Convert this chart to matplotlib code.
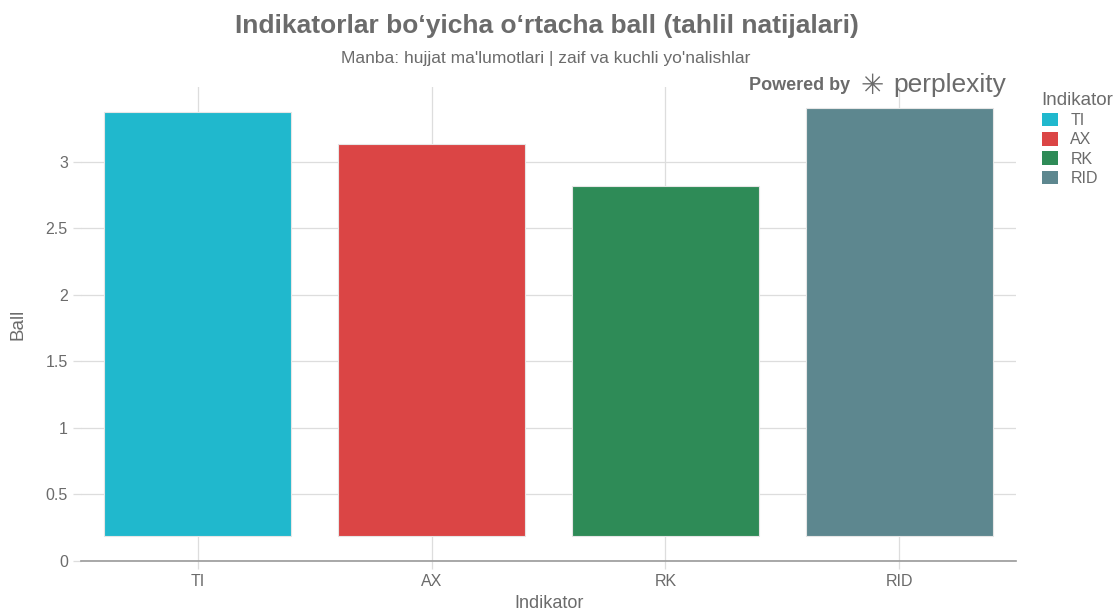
import matplotlib
matplotlib.use('Agg')
import matplotlib.pyplot as plt
from matplotlib.patches import Patch

# Ma'lumotlar
categories = ['TI', 'AX', 'RK', 'RID']
values = [3.37, 3.13, 2.82, 3.40]
base = 0.19  # ustunlar shu qiymatdan boshlanadi (asl rasmdagi kabi)
colors = ['#20B8CD', '#DB4545', '#2E8B57', '#5D878F']
y_ticks = [0, 0.5, 1, 1.5, 2, 2.5, 3]
y_tick_labels = ['0', '0.5', '1', '1.5', '2', '2.5', '3']

plt.rcParams['font.family'] = ['Liberation Sans', 'DejaVu Sans']
grey = '#6b6b6b'

fig = plt.figure(figsize=(11.13, 6.13), dpi=100)
ax = fig.add_axes([0.0728, 0.0848, 0.8402, 0.7732])

x = list(range(len(categories)))
heights = [v - base for v in values]
ax.bar(x, heights, bottom=base, width=0.8, color=colors,
       edgecolor='#e6e6e6', linewidth=0.8, zorder=3)

ax.set_xlim(-0.5, len(categories) - 0.5)
ax.set_ylim(0, 3.56)
ax.set_xticks(x)
ax.set_xticklabels(categories)
ax.set_yticks(y_ticks)
ax.set_yticklabels(y_tick_labels)

ax.grid(True, color='#dddddd', linewidth=0.9, zorder=0)
for s in ['top', 'right', 'left']:
    ax.spines[s].set_visible(False)
ax.spines['bottom'].set_color('#999999')
ax.spines['bottom'].set_linewidth(1.2)
ax.tick_params(axis='both', colors=grey, labelsize=11.5, length=6,
               width=0.9)
ax.tick_params(axis='both', color='#dddddd')
ax.tick_params(axis='x', pad=3)

ax.set_xlabel('Indikator', color=grey, fontsize=13, labelpad=5)
ax.set_ylabel('Ball', color=grey, fontsize=13.5, labelpad=14)

fig.text(0.491, 0.958, 'Indikatorlar bo‘yicha o‘rtacha ball (tahlil natijalari)',
         ha='center', va='center', fontsize=19, fontweight='bold', color=grey)
fig.text(0.49, 0.905, "Manba: hujjat ma'lumotlari | zaif va kuchli yo'nalishlar",
         ha='center', va='center', fontsize=12.5, color=grey)
fig.text(0.764, 0.86, 'Powered by', ha='right', va='center', fontsize=13,
         fontweight='bold', color=grey)
fig.text(0.803, 0.862, 'perplexity', ha='left', va='center', fontsize=19,
         color=grey)
fig.text(0.784, 0.86, '✳', ha='center', va='center', fontsize=20,
         color=grey, family=['DejaVu Sans'])

handles = [Patch(facecolor=c, edgecolor='none') for c in colors]
leg = fig.legend(handles, categories, title='Indikator', loc='upper left',
                 bbox_to_anchor=(0.923, 0.873), frameon=False, fontsize=11.5,
                 title_fontsize=13.5, handlelength=1.0, handleheight=0.9,
                 labelspacing=0.25, handletextpad=0.8, alignment='left')
for t in leg.get_texts():
    t.set_color(grey)
leg.get_title().set_color(grey)

fig.savefig('out.png', dpi=100)
